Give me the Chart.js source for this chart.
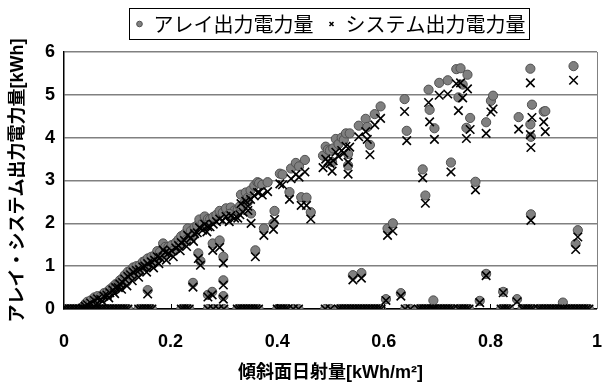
<!DOCTYPE html>
<html>
<head>
<meta charset="utf-8">
<script src="https://cdn.jsdelivr.net/npm/chart.js@4/dist/chart.umd.min.js"></script>
<style>
  html, body { margin: 0; padding: 0; background: #fff; }
  #wrap { width: 605px; height: 388px; }
</style>
</head>
<body>
<div id="wrap"><canvas id="scatter-chart" width="605" height="388"></canvas></div>
<script>
// 傾斜面日射量 [kWh/m2]
var irradiance = [
	0, 0.005, 0.01, 0.015, 0.02, 0.025, 0.03, 0.035, 0.04, 0.045, 0.05, 0.055, 0.06, 0.065, 0.07, 0.075, 0.08, 0.085, 0.09, 0.095, 0.1,
	0.105, 0.11, 0.115, 0.12, 0.14, 0.145, 0.15, 0.155, 0.16, 0.165, 0.22, 0.225, 0.23, 0.235, 0.27, 0.28, 0.29, 0.3,
	0.325, 0.33, 0.335, 0.34, 0.345, 0.35, 0.355, 0.36, 0.365, 0.4, 0.405, 0.41, 0.415, 0.42, 0.43, 0.44, 0.49, 0.5,
	0.515, 0.52, 0.525, 0.53, 0.535, 0.54, 0.545, 0.55, 0.555, 0.56, 0.565, 0.57, 0.575, 0.58, 0.585, 0.59, 0.595,
	0.64, 0.65, 0.665, 0.67, 0.675, 0.68, 0.685, 0.69, 0.695, 0.7, 0.705, 0.71, 0.715, 0.72, 0.725, 0.73,
	0.74, 0.745, 0.75, 0.755, 0.76, 0.82, 0.825, 0.83, 0.835, 0.86, 0.865, 0.87, 0.875, 0.88,
	0.89, 0.895, 0.9, 0.905, 0.91, 0.915, 0.92, 0.925, 0.93, 0.935, 0.94, 0.945, 0.95, 0.955, 0.96, 0.965, 0.97, 0.975, 0.98, 0.985,
	0.035, 0.04, 0.044, 0.05, 0.057, 0.063, 0.069, 0.075, 0.081, 0.086, 0.092, 0.097, 0.102, 0.105, 0.11, 0.114, 0.12, 0.125, 0.13, 0.136,
	0.142, 0.148, 0.152, 0.157, 0.164, 0.17, 0.175, 0.18, 0.186, 0.19, 0.196, 0.202, 0.21, 0.215, 0.22, 0.226, 0.232, 0.238, 0.245, 0.25,
	0.254, 0.26, 0.264, 0.27, 0.274, 0.28, 0.286, 0.292, 0.298, 0.304, 0.313, 0.32, 0.326, 0.332, 0.336, 0.341, 0.345, 0.35, 0.357, 0.363,
	0.366, 0.372, 0.382, 0.405, 0.41, 0.426, 0.435, 0.441, 0.452, 0.486, 0.491, 0.495, 0.499, 0.505, 0.51, 0.515, 0.521, 0.525, 0.529, 0.536,
	0.553, 0.566, 0.569, 0.574, 0.583, 0.594,
	0.06, 0.072, 0.084, 0.095, 0.108, 0.118, 0.128, 0.14, 0.155, 0.168, 0.178, 0.192, 0.205, 0.218, 0.23, 0.243, 0.268, 0.31, 0.33, 0.345,
	0.157, 0.242, 0.252, 0.256, 0.27, 0.278, 0.279, 0.292, 0.299, 0.299, 0.299, 0.359, 0.351, 0.375, 0.393, 0.395, 0.423, 0.445, 0.455, 0.463,
	0.503, 0.533, 0.533, 0.542, 0.558, 0.604, 0.607, 0.617, 0.632, 0.639, 0.643, 0.673, 0.678, 0.684, 0.686, 0.693, 0.695, 0.704, 0.72, 0.726,
	0.736, 0.74, 0.744, 0.748, 0.755, 0.757, 0.762, 0.772, 0.78, 0.792, 0.792, 0.801, 0.805, 0.824, 0.85, 0.853, 0.875, 0.876, 0.878, 0.875,
	0.876, 0.9, 0.903, 0.936, 0.956, 0.96, 0.964
];
// アレイ出力電力量 [kWh]
var arrayPower = [
	0, 0, 0, 0, 0, 0, 0, 0, 0, 0, 0, 0, 0, 0, 0, 0, 0, 0, 0, 0, 0,
	0, 0, 0, 0, 0, 0, 0, 0, 0, 0, 0, 0, 0, 0, 0, 0, 0, 0,
	0, 0, 0, 0, 0, 0, 0, 0, 0, 0, 0, 0, 0, 0, 0, 0, 0, 0,
	0, 0, 0, 0, 0, 0, 0, 0, 0, 0, 0, 0, 0, 0, 0, 0, 0,
	0, 0, 0, 0, 0, 0, 0, 0, 0, 0, 0, 0, 0, 0, 0, 0,
	0, 0, 0, 0, 0, 0, 0, 0, 0, 0, 0, 0, 0, 0,
	0, 0, 0, 0, 0, 0, 0, 0, 0, 0, 0, 0, 0, 0, 0, 0, 0, 0, 0, 0,
	0.05, 0.12, 0.17, 0.2, 0.27, 0.3, 0.29, 0.37, 0.4, 0.46, 0.52, 0.58, 0.6, 0.67, 0.72, 0.79, 0.87, 0.9, 0.97, 1.0,
	1.02, 1.1, 1.12, 1.18, 1.22, 1.25, 1.35, 1.33, 1.53, 1.45, 1.45, 1.49, 1.55, 1.62, 1.7, 1.75, 1.88, 1.82, 1.91, 1.95,
	2.09, 2.0, 2.16, 2.1, 2.09, 2.15, 2.2, 2.29, 2.25, 2.35, 2.37, 2.3, 2.32, 2.67, 2.45, 2.72, 2.6, 2.77, 2.88, 2.96,
	2.94, 2.9, 2.96, 3.16, 3.14, 3.28, 3.41, 3.33, 3.48, 3.58, 3.79, 3.72, 3.7, 3.75, 3.97, 3.85, 4.0, 3.95, 4.1, 4.1,
	4.28, 4.44, 4.25, 3.83, 4.55, 4.73,
	0.16, 0.26, 0.34, 0.45, 0.56, 0.64, 0.76, 0.86, 0.98, 1.08, 1.2, 1.28, 1.36, 1.5, 1.62, 1.74, 1.96, 2.22, 2.4, 2.5,
	0.44, 0.61, 1.3, 1.12, 0.33, 0.4, 1.53, 1.6, 1.22, 0.67, 0.3, 1.37, 2.23, 1.88, 2.0, 2.29, 2.73, 2.61, 2.6, 2.26,
	3.43, 3.62, 3.35, 0.79, 0.84, 0.23, 1.88, 2.0, 0.37, 4.9, 4.16, 3.26, 2.65, 5.12, 4.65, 0.2, 4.22, 5.28, 5.34, 3.42,
	5.6, 4.94, 5.62, 5.24, 4.23, 5.47, 4.46, 2.97, 0.19, 0.82, 4.36, 4.86, 4.98, 0.4, 0.23, 4.48, 5.61, 2.21, 4.77, 4.31,
	4.02, 4.61, 4.62, 0.15, 5.67, 1.52, 1.84
];
// システム出力電力量 [kWh]
var systemPower = [
	0, 0, 0, 0, 0, 0, 0, 0, 0, 0, 0, 0, 0, 0, 0, 0, 0, 0, 0, 0, 0,
	0, 0, 0, 0, 0, 0, 0, 0, 0, 0, 0, 0, 0, 0, 0, 0, 0, 0,
	0, 0, 0, 0, 0, 0, 0, 0, 0, 0, 0, 0, 0, 0, 0, 0, 0, 0,
	0, 0, 0, 0, 0, 0, 0, 0, 0, 0, 0, 0, 0, 0, 0, 0, 0,
	0, 0, 0, 0, 0, 0, 0, 0, 0, 0, 0, 0, 0, 0, 0, 0,
	0, 0, 0, 0, 0, 0, 0, 0, 0, 0, 0, 0, 0, 0,
	0, 0, 0, 0, 0, 0, 0, 0, 0, 0, 0, 0, 0, 0, 0, 0, 0, 0, 0, 0,
	0.02, 0.06, 0.1, 0.14, 0.2, 0.24, 0.22, 0.3, 0.32, 0.38, 0.44, 0.5, 0.5, 0.58, 0.62, 0.7, 0.76, 0.8, 0.86, 0.9,
	0.92, 0.98, 1.0, 1.06, 1.1, 1.14, 1.22, 1.2, 1.38, 1.32, 1.3, 1.36, 1.42, 1.48, 1.55, 1.6, 1.72, 1.66, 1.76, 1.78,
	1.9, 1.84, 1.98, 1.92, 1.92, 1.98, 2.04, 2.1, 2.06, 2.16, 2.18, 2.12, 2.12, 2.46, 2.26, 2.52, 2.4, 2.56, 2.64, 2.72,
	2.72, 2.66, 2.74, 2.92, 2.9, 3.04, 3.14, 3.08, 3.2, 3.3, 3.5, 3.44, 3.4, 3.46, 3.66, 3.56, 3.7, 3.64, 3.8, 3.78,
	4.02, 4.14, 3.96, 3.6, 4.3, 4.45,
	0.1, 0.18, 0.26, 0.36, 0.46, 0.54, 0.66, 0.74, 0.86, 0.96, 1.06, 1.14, 1.22, 1.36, 1.46, 1.58, 1.8, 2.04, 2.2, 2.3,
	0.35, 0.51, 1.18, 1.02, 0.28, 0.33, 1.37, 1.44, 1.07, 0.56, 0.23, 1.22, 2.0, 1.72, 1.86, 2.09, 2.56, 2.42, 2.42, 2.1,
	3.22, 3.43, 3.15, 0.68, 0.72, 0.2, 1.72, 1.82, 0.3, 4.61, 3.93, 3.06, 2.47, 4.82, 4.37, 0, 3.96, 4.99, 5.02, 3.2,
	5.26, 4.63, 5.28, 4.93, 3.98, 5.14, 4.19, 2.78, 0.15, 0.78, 4.1, 4.6, 4.67, 0.38, 0.17, 4.2, 5.28, 2.07, 4.47, 4.07,
	3.77, 4.37, 4.14, 0, 5.34, 1.39, 1.68
];
var seriesNames = ['アレイ出力電力量', 'システム出力電力量'];
var xTitle = '傾斜面日射量[kWh/m²]';
var yTitle = 'アレイ・システム出力電力量[kWh]';

var FONT = "'Liberation Sans', 'Noto Sans CJK JP', sans-serif";

function toPoints(ys){
	return irradiance.map(function(x, i){ return {x: x, y: ys[i]}; });
}

// 凡例の下に余白を足す + 凡例の枠、プロット枠、x軸の内向き目盛
var framePlugin = {
	id: 'frame',
	beforeLayout: function(chart){
		var lg = chart.legend;
		if (lg && !lg._extraGap) {
			var fit = lg.fit;
			lg.fit = function(){
				fit.call(this);
				this.height += 8;
			};
			lg._extraGap = true;
		}
	},
	afterDraw: function(chart){
		var ctx = chart.ctx;
		var a = chart.chartArea;
		ctx.save();
		ctx.strokeStyle = '#808080';
		ctx.lineWidth = 1;
		ctx.beginPath();
		ctx.moveTo(a.right + 0.5, a.top);
		ctx.lineTo(a.right + 0.5, a.bottom);
		ctx.stroke();

		var xs = chart.scales.x;
		ctx.strokeStyle = '#000';
		ctx.lineWidth = 1;
		[0.2, 0.4, 0.6, 0.8].forEach(function(v){
			var px = Math.round(xs.getPixelForValue(v)) + 0.5;
			ctx.beginPath();
			ctx.moveTo(px, a.bottom);
			ctx.lineTo(px, a.bottom - 5);
			ctx.stroke();
		});

		var boxes = chart.legend.legendHitBoxes;
		if (boxes && boxes.length) {
			var l = Infinity, r = -Infinity, t = Infinity, b = -Infinity;
			boxes.forEach(function(h){
				l = Math.min(l, h.left); r = Math.max(r, h.left + h.width);
				t = Math.min(t, h.top); b = Math.max(b, h.top + h.height);
			});
			ctx.strokeStyle = '#000';
			ctx.lineWidth = 1;
			ctx.strokeRect(Math.round(l - 6) + 0.5, Math.round(t - 6) + 0.5, Math.round(r - l + 10), Math.round(b - t + 11));
		}
		ctx.restore();
	}
};

new Chart(document.getElementById('scatter-chart'), {
	type: 'scatter',
	data: {
		datasets: [
			{
				label: seriesNames[0],
				data: toPoints(arrayPower),
				pointStyle: 'circle',
				pointRadius: 4.6,
				pointHoverRadius: 4.6,
				backgroundColor: '#808080',
				borderColor: '#505050',
				borderWidth: 1,
				order: 2
			},
			{
				label: seriesNames[1],
				data: toPoints(systemPower),
				pointStyle: 'crossRot',
				pointRadius: 6,
				pointHoverRadius: 6,
				backgroundColor: '#000',
				borderColor: '#000',
				borderWidth: 1.6,
				order: 1
			}
		]
	},
	options: {
		responsive: false,
		animation: false,
		devicePixelRatio: 1,
		layout: { padding: { top: 0, right: 7, left: 0, bottom: 0 } },
		plugins: {
			tooltip: { enabled: false },
			legend: {
				position: 'top',
				fullSize: false,
				labels: {
					usePointStyle: true,
					boxWidth: 8,
					boxHeight: 4,
					padding: 14,
					color: '#000',
					font: { family: "'Noto Sans CJK JP', sans-serif", size: 20 },
					sort: function(a, b){ return a.datasetIndex - b.datasetIndex; }
				}
			}
		},
		scales: {
			x: {
				type: 'linear',
				min: 0,
				max: 1,
				afterFit: function(s){ s.height = 79; },
				ticks: {
					stepSize: 0.2,
					padding: 3,
					color: '#000',
					font: { family: FONT, size: 18, weight: 'bold' },
					callback: function(v){ return Number(v.toFixed(1)).toString(); }
				},
				grid: { display: true, drawOnChartArea: false, drawTicks: true, tickLength: 19, color: 'rgba(0,0,0,0)' },
				border: { display: true, color: '#000', width: 1.5 },
				title: {
					display: true,
					text: xTitle,
					color: '#000',
					font: { family: FONT, size: 18, weight: 'bold' },
					padding: { top: 0, bottom: 4 }
				}
			},
			y: {
				type: 'linear',
				min: 0,
				max: 6,
				afterFit: function(s){ s.width = 64; },
				ticks: {
					stepSize: 1,
					padding: 9,
					color: '#000',
					font: { family: FONT, size: 18, weight: 'bold' }
				},
				grid: { color: '#808080', lineWidth: 1.5, drawTicks: false },
				border: { display: true, color: '#000', width: 1.5 },
				title: {
					display: true,
					text: yTitle,
					color: '#000',
					font: { family: FONT, size: 18, weight: 'bold' },
					padding: { top: 7, bottom: 0 }
				}
			}
		}
	},
	plugins: [framePlugin]
});
</script>
</body>
</html>
